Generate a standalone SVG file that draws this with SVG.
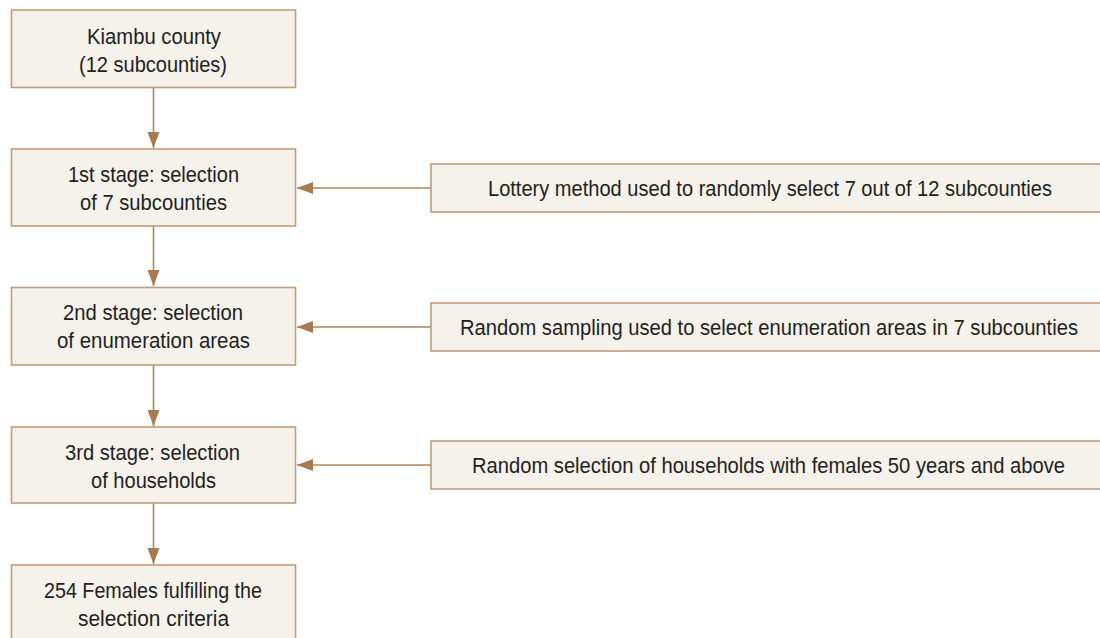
<svg xmlns="http://www.w3.org/2000/svg" width="1100" height="638" viewBox="0 0 1100 638">
  <style>
    .box { fill: #f5f2ec; stroke: #c39c7b; stroke-width: 1.6; }
    .t { font-family: "Liberation Sans", Arial, sans-serif; font-size: 22px; fill: #231f20; text-anchor: middle; }
    .c { stroke: #b0845c; stroke-width: 1.6; fill: none; marker-end: url(#ah); }
  </style>
  <defs>
    <marker id="ah" markerUnits="userSpaceOnUse" markerWidth="16" markerHeight="12" refX="16" refY="6" orient="auto">
      <path d="M0,0 L16,6 L0,12 z" fill="#a97a4e"/>
    </marker>
  </defs>
  <rect width="1100" height="638" fill="#ffffff"/>

  <g id="connectors">
    <line class="c" x1="153.5" y1="88" x2="153.5" y2="148"/>
    <line class="c" x1="153.5" y1="226" x2="153.5" y2="286"/>
    <line class="c" x1="153.5" y1="365" x2="153.5" y2="426"/>
    <line class="c" x1="153.5" y1="503" x2="153.5" y2="564"/>
    <line class="c" x1="431" y1="188" x2="297" y2="188"/>
    <line class="c" x1="431" y1="327" x2="297" y2="327"/>
    <line class="c" x1="431" y1="465" x2="297" y2="465"/>
  </g>

  <g id="kiambu">
    <rect class="box" x="11.5" y="10" width="284" height="77.5"/>
    <text class="t" x="154" y="43.5" textLength="134" lengthAdjust="spacingAndGlyphs">Kiambu county</text>
    <text class="t" x="153" y="71.5" textLength="148" lengthAdjust="spacingAndGlyphs">(12 subcounties)</text>
  </g>

  <g id="stage1">
    <rect class="box" x="11.5" y="149" width="284" height="77"/>
    <text class="t" x="153.5" y="181.5" textLength="171" lengthAdjust="spacingAndGlyphs">1st stage: selection</text>
    <text class="t" x="153.5" y="209.5" textLength="147" lengthAdjust="spacingAndGlyphs">of 7 subcounties</text>
  </g>

  <g id="stage2">
    <rect class="box" x="11.5" y="287.5" width="284" height="77.5"/>
    <text class="t" x="153" y="320" textLength="180" lengthAdjust="spacingAndGlyphs">2nd stage: selection</text>
    <text class="t" x="153.5" y="348" textLength="193" lengthAdjust="spacingAndGlyphs">of enumeration areas</text>
  </g>

  <g id="stage3">
    <rect class="box" x="11.5" y="427" width="284" height="76"/>
    <text class="t" x="152.5" y="459.5" textLength="175" lengthAdjust="spacingAndGlyphs">3rd stage: selection</text>
    <text class="t" x="153.5" y="487.5" textLength="125" lengthAdjust="spacingAndGlyphs">of households</text>
  </g>

  <g id="females">
    <rect class="box" x="11.5" y="565" width="284" height="90"/>
    <text class="t" x="153" y="597.5" textLength="218" lengthAdjust="spacingAndGlyphs">254 Females fulfilling the</text>
    <text class="t" x="153.5" y="625.5" textLength="151" lengthAdjust="spacingAndGlyphs">selection criteria</text>
  </g>

  <g id="lottery">
    <rect class="box" x="431" y="164" width="670" height="48"/>
    <text class="t" x="770" y="195.5" textLength="564" lengthAdjust="spacingAndGlyphs">Lottery method used to randomly select 7 out of 12 subcounties</text>
  </g>

  <g id="random-sampling">
    <rect class="box" x="431" y="303" width="670" height="48"/>
    <text class="t" x="769" y="334.5" textLength="618" lengthAdjust="spacingAndGlyphs">Random sampling used to select enumeration areas in 7 subcounties</text>
  </g>

  <g id="random-selection">
    <rect class="box" x="431" y="441" width="670" height="48"/>
    <text class="t" x="768.5" y="472.5" textLength="593" lengthAdjust="spacingAndGlyphs">Random selection of households with females 50 years and above</text>
  </g>
</svg>
